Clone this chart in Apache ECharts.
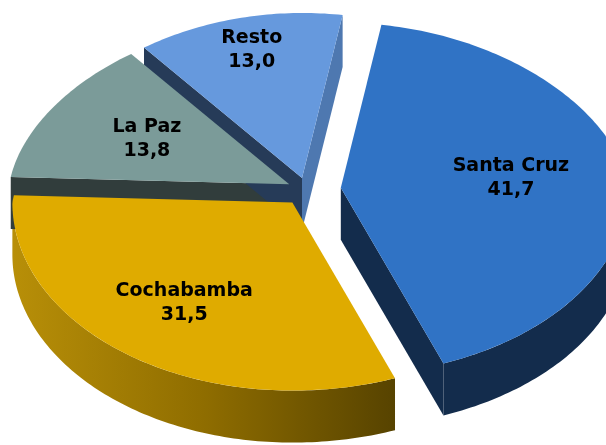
<!DOCTYPE html>
<html>
<head>
<meta charset="utf-8">
<script src="https://cdn.jsdelivr.net/npm/echarts@6/dist/echarts.min.js"></script>
<style>
  html, body { margin: 0; padding: 0; background: #fff; }
  #chart { width: 606px; height: 445px; }
</style>
</head>
<body>
<div id="chart"></div>
<script>
// share by department (%)
var categories = ['Santa Cruz', 'Cochabamba', 'La Paz', 'Resto'];
var values = [41.7, 31.5, 13.8, 13.0];

var topColors = ['#3073C5', '#DFAB00', '#7B9B99', '#6699DD'];
var darkSide = ['#132C4C', '#5A4500', '#313D3C', '#263B58'];
var litSide = ['#2A5A99', '#8E6C00', '#5A6E6D', '#4E78B0'];
var explode = [34, 25, 20, 20];
var labelRadius = [0.6, 0.66, 0.6, 0.8];

// fake 3d geometry
var CX = 307, CY = 190, RX_LEFT = 280, RX_RIGHT = 288, RY_BACK = 165, RY_FRONT = 188, DEPTH = 52;
var START = 81;

function pt(deg, r, ox, oy, drop) {
  var a = deg * Math.PI / 180;
  var s = Math.sin(a), c = Math.cos(a);
  var ry = s > 0 ? RY_BACK : RY_FRONT;
  var rx = c > 0 ? RX_RIGHT : RX_LEFT;
  var kx = s > 0 ? 1 - 0.1 * s : 1;
  return [CX + ox + r * rx * c * kx, CY + oy - r * ry * s + drop];
}

function arc(from, to, ox, oy, drop) {
  var pts = [];
  var n = Math.max(2, Math.ceil(Math.abs(from - to)));
  for (var k = 0; k <= n; k++) {
    pts.push(pt(from + (to - from) * k / n, 1, ox, oy, drop));
  }
  return pts;
}

function fmt(v) {
  return v.toFixed(1).replace('.', ',');
}

function renderItem(params, api) {
  var i = params.dataIndex;
  var total = values.reduce(function (s, v) { return s + v; }, 0);
  var acc = 0;
  for (var j = 0; j < i; j++) acc += values[j];
  var a0 = START - acc / total * 360;
  var a1 = a0 - api.value(0) / total * 360;
  var mid = (a0 + a1) / 2;
  var mr = mid * Math.PI / 180;
  var ox = explode[i] * Math.cos(mr);
  var oy = -explode[i] * Math.sin(mr) * 0.62;
  var apex = pt(0, 0, ox, oy, 0);
  var apexB = pt(0, 0, ox, oy, DEPTH);
  var children = [];

  // outer wall, front half only
  [[-180, 0], [180, 360], [-540, -360]].forEach(function (rg) {
    var lo = Math.max(a1, rg[0]), hi = Math.min(a0, rg[1]);
    if (hi - lo > 0.2) {
      var top = arc(lo, hi, ox, oy, 0);
      var bot = arc(hi, lo, ox, oy, DEPTH);
      children.push({
        type: 'polygon',
        z2: 1,
        shape: { points: top.concat(bot) },
        style: {
          fill: i === 1 ? new echarts.graphic.LinearGradient(0, 0, 1, 0, [
            { offset: 0, color: '#B88F08' },
            { offset: 0.5, color: '#8F6D00' },
            { offset: 1, color: '#574300' }
          ]) : darkSide[i]
        }
      });
    }
  });

  // radial faces
  function radial(deg) {
    var o = pt(deg, 1, ox, oy, 0);
    var ob = pt(deg, 1, ox, oy, DEPTH);
    return { pts: [apex, o, ob, apexB], n: deg * Math.PI / 180 };
  }
  if (Math.cos(a0 * Math.PI / 180) < 0) {
    var f0 = radial(a0);
    children.push({
      type: 'polygon', z2: 2,
      shape: { points: f0.pts },
      style: { fill: Math.cos(f0.n + Math.PI / 2) > 0.5 ? litSide[i] : darkSide[i] }
    });
  }
  if (Math.cos(a1 * Math.PI / 180) > 0) {
    var f1 = radial(a1);
    children.push({
      type: 'polygon', z2: 2,
      shape: { points: f1.pts },
      style: { fill: Math.cos(f1.n - Math.PI / 2) > 0.5 ? litSide[i] : darkSide[i] }
    });
  }

  // top face
  children.push({
    type: 'polygon',
    z2: 10,
    shape: { points: [apex].concat(arc(a0, a1, ox, oy, 0)) },
    style: { fill: topColors[i] }
  });

  var lp = pt(mid, labelRadius[i], ox, oy, 0);
  children.push({
    type: 'text',
    z2: 20,
    x: lp[0],
    y: lp[1],
    style: {
      text: categories[i] + '\n' + fmt(api.value(0)),
      font: 'bold 19px "DejaVu Sans"',
      fill: '#000',
      align: 'center',
      verticalAlign: 'middle',
      lineHeight: 24
    }
  });

  return { type: 'group', children: children };
}

var chart = echarts.init(document.getElementById('chart'));
chart.setOption({
  animation: false,
  backgroundColor: '#fff',
  series: [{
    type: 'custom',
    coordinateSystem: 'none',
    renderItem: renderItem,
    data: values.map(function (v, i) { return { name: categories[i], value: v }; })
  }]
});
</script>
</body>
</html>
